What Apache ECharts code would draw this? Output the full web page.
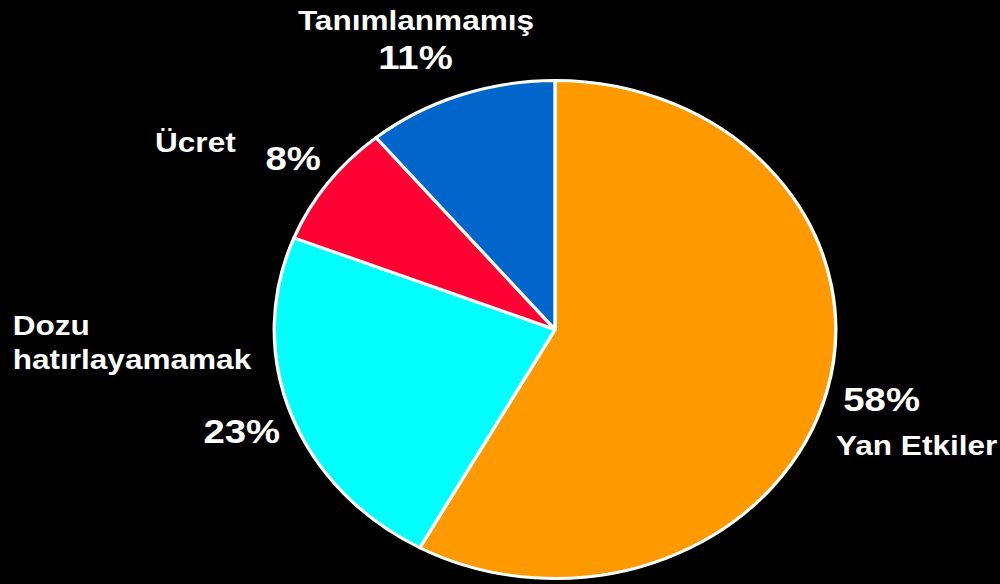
<!DOCTYPE html>
<html>
<head>
<meta charset="utf-8">
<script src="https://cdn.jsdelivr.net/npm/echarts@6/dist/echarts.min.js"></script>
<style>
  html, body { margin: 0; padding: 0; background: #000; width: 1000px; height: 584px; overflow: hidden; }
  /* the chart is laid out on a narrower canvas and stretched horizontally */
  #chart { width: 887px; height: 584px; transform: scaleX(1.1274); transform-origin: 0 0; }
</style>
</head>
<body>
<div id="chart"></div>
<script>
// Reasons reported (percent of answers)
const categories = ['Yan Etkiler', 'Dozu\nhatırlayamamak', 'Ücret', 'Tanımlanmamış'];
const shares = [58, 23, 8, 11];
const palette = ['#FF9900', '#00FFFF', '#FF0033', '#0066CC'];

// where each slice's name and percentage are written (chart pixels)
const labelSpots = [
  { name: [741.5, 445, 'left'],   pct: [748, 399, 'left'] },
  { name: [11.2, 342.6, 'left'],  pct: [180.5, 431.7, 'left'] },
  { name: [137.5, 142, 'left'],   pct: [235.5, 158.7, 'left'] },
  { name: [369, 19.7, 'center'],  pct: [368.5, 57.5, 'center'] }
];

const FONT = '"Liberation Sans", Arial, sans-serif';

const texts = [];
categories.forEach((cat, i) => {
  const s = labelSpots[i];
  texts.push({
    type: 'text', x: s.name[0], y: s.name[1], silent: true,
    style: {
      text: cat, fill: '#fff', font: 'bold 28px ' + FONT,
      textAlign: s.name[2], textVerticalAlign: 'middle', lineHeight: 34
    }
  });
  texts.push({
    type: 'text', x: s.pct[0], y: s.pct[1], silent: true,
    style: {
      text: shares[i] + '%', fill: '#fff', font: 'bold 34px ' + FONT,
      textAlign: s.pct[2], textVerticalAlign: 'middle'
    }
  });
});

const chart = echarts.init(document.getElementById('chart'), null, { renderer: 'svg' });
chart.setOption({
  backgroundColor: '#000',
  animation: false,
  series: [{
    type: 'pie',
    center: [492.3, 329.5],
    radius: [0, 249],
    startAngle: 90,
    clockwise: true,
    label: { show: false },
    labelLine: { show: false },
    emphasis: { disabled: true },
    itemStyle: { borderColor: '#fff', borderWidth: 3 },
    data: categories.map((c, i) => ({
      name: c, value: shares[i], itemStyle: { color: palette[i] }
    }))
  }],
  graphic: texts
});
</script>
</body>
</html>
